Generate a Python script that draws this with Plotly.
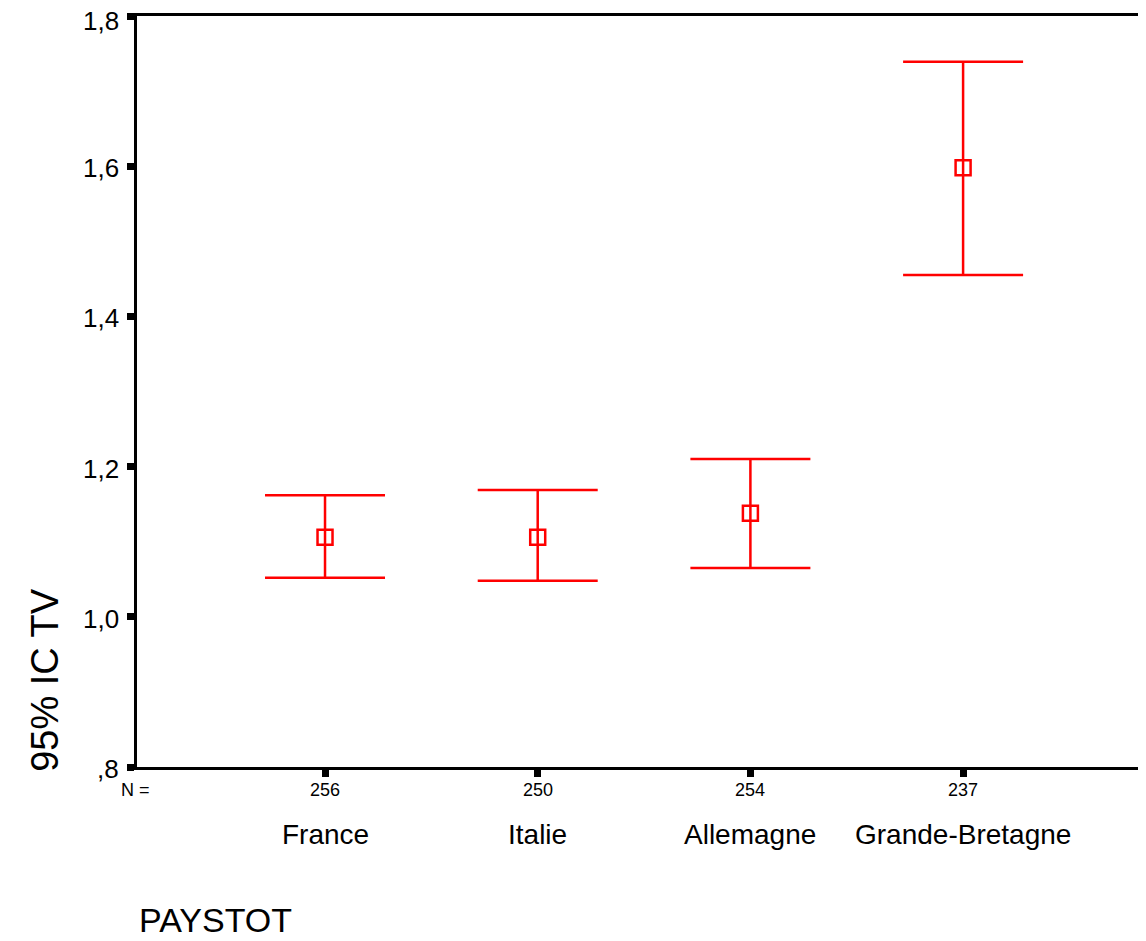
import plotly.graph_objects as go

categories = ["France", "Italie", "Allemagne", "Grande-Bretagne"]
n_values = ["256", "250", "254", "237"]
means = [1.106, 1.106, 1.138, 1.598]
upper = [1.162, 1.169, 1.210, 1.739]
lower = [1.052, 1.048, 1.065, 1.455]
ytick_vals = [0.8, 1.0, 1.2, 1.4, 1.6, 1.8]
ytick_text = [",8", "1,0", "1,2", "1,4", "1,6", "1,8"]

xpos = list(range(len(categories)))
err_plus = [u - m for u, m in zip(upper, means)]
err_minus = [m - l for m, l in zip(means, lower)]

red = "#ff0000"
font = "Liberation Sans, Arial, sans-serif"

fig = go.Figure()
fig.add_trace(go.Scatter(
    x=xpos, y=means, mode="markers",
    marker=dict(symbol="square-open", size=15, color=red, line=dict(width=2.5, color=red)),
    error_y=dict(type="data", symmetric=False, array=err_plus, arrayminus=err_minus,
                 color=red, thickness=2.5, width=60),
    showlegend=False, cliponaxis=False,
))

annotations = []
top_val = max(ytick_vals)
for v, t in zip(ytick_vals, ytick_text):
    annotations.append(dict(x=0, y=v, xref="paper", yref="y", text=t, showarrow=False,
                            xanchor="right", yanchor="middle", xshift=-16,
                            yshift=-5 if v == top_val else -2,
                            font=dict(size=26, color="black", family=font)))
for x, n, c in zip(xpos, n_values, categories):
    annotations.append(dict(x=x, y=-0.0306, xref="x", yref="paper", text=n, showarrow=False,
                            font=dict(size=18, color="black", family=font), yanchor="middle"))
    annotations.append(dict(x=x, y=-0.0905, xref="x", yref="paper", text=c, showarrow=False,
                            font=dict(size=28, color="black", family=font), yanchor="middle"))
annotations.append(dict(x=-0.001, y=-0.0306, xref="paper", yref="paper", text="N =", showarrow=False,
                        font=dict(size=18, color="black", family=font), xanchor="center", yanchor="middle"))
annotations.append(dict(x=0.0, y=-0.2037, xref="paper", yref="paper", text="PAYSTOT", showarrow=False,
                        font=dict(size=34, color="black", family=font), xanchor="left", yanchor="middle"))
annotations.append(dict(x=-0.0912, y=0.116, xref="paper", yref="paper", text="95% IC TV", showarrow=False,
                        textangle=-90, font=dict(size=38, color="black", family=font),
                        xanchor="center", yanchor="middle"))

fig.update_layout(
    width=1138, height=933,
    margin=dict(l=129, r=0, t=8, b=174),
    paper_bgcolor="white", plot_bgcolor="white",
    font=dict(family=font, color="black"),
    annotations=annotations,
    xaxis=dict(range=[-0.884, 3.86], tickvals=xpos, showticklabels=False,
               showline=True, linewidth=3, linecolor="black", mirror=True,
               ticks="outside", ticklen=7, tickwidth=7, tickcolor="black",
               showgrid=False, zeroline=False, fixedrange=True),
    yaxis=dict(range=[0.8, 1.8], tickvals=ytick_vals, showticklabels=False,
               showline=True, linewidth=3, linecolor="black",
               ticks="outside", ticklen=7, tickwidth=7, tickcolor="black",
               showgrid=False, zeroline=False, fixedrange=True),
)

fig.write_html("out.html")
